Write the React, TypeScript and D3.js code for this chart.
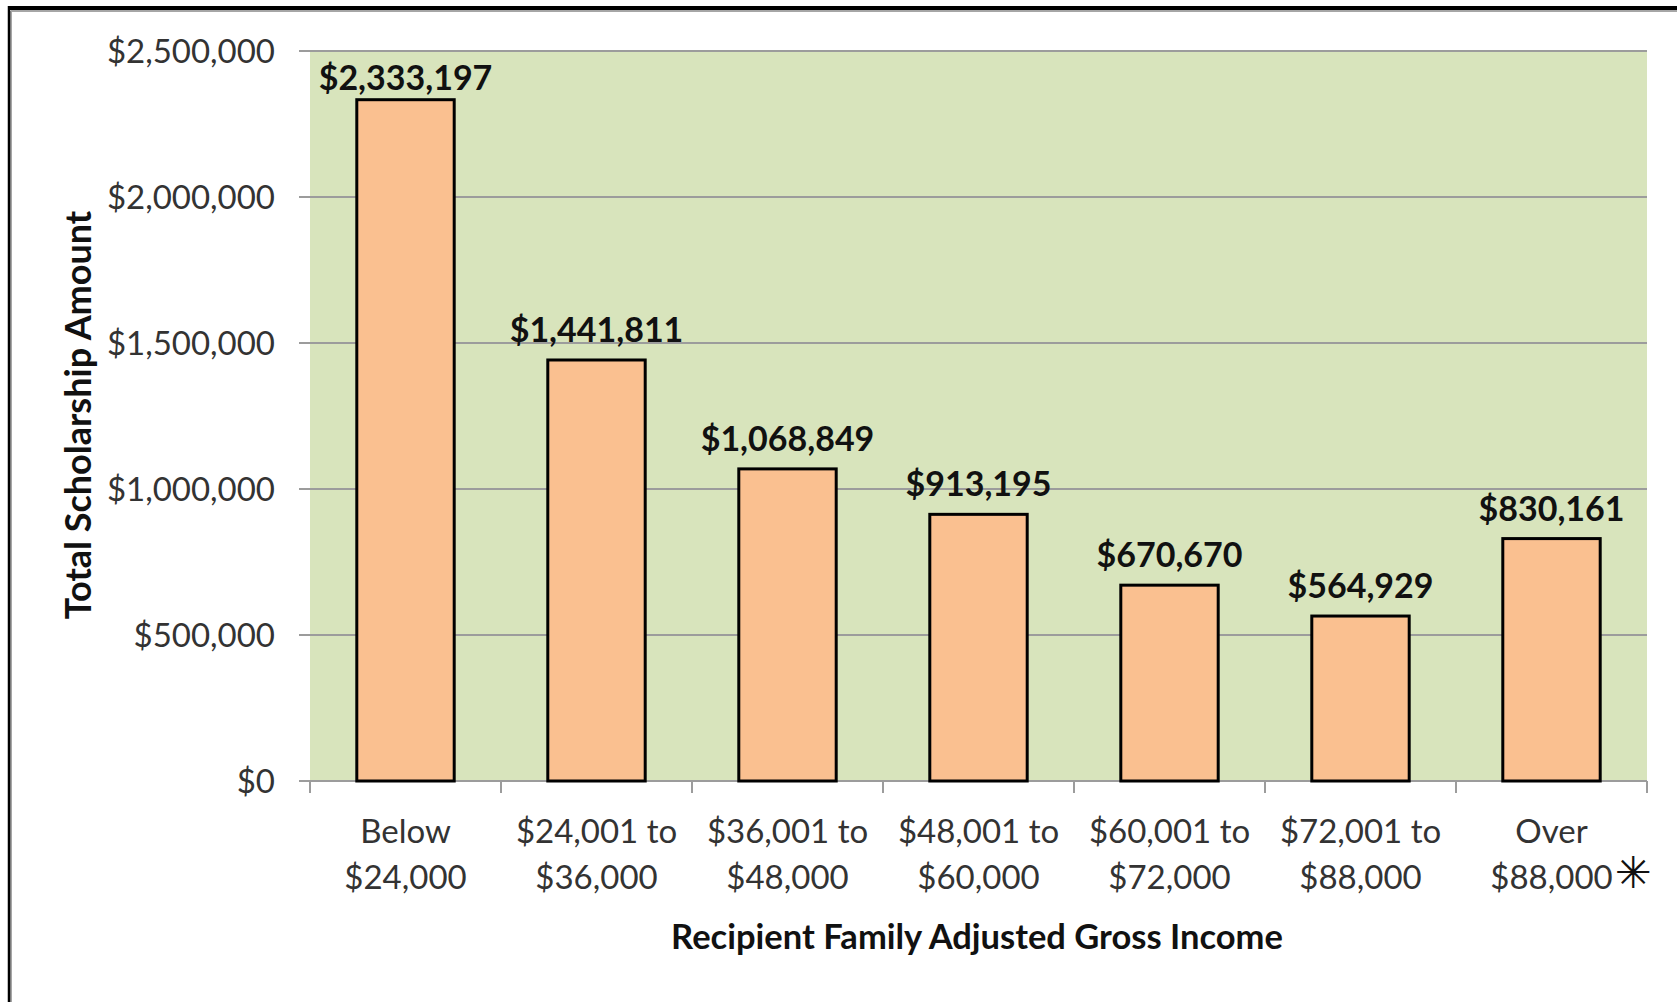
import React from "react";
import * as d3 from "d3";

const categories: string[][] = [
  ["Below", "$24,000"],
  ["$24,001 to", "$36,000"],
  ["$36,001 to", "$48,000"],
  ["$48,001 to", "$60,000"],
  ["$60,001 to", "$72,000"],
  ["$72,001 to", "$88,000"],
  ["Over", "$88,000"],
];
const values: number[] = [2333197, 1441811, 1068849, 913195, 670670, 564929, 830161];
const yTicks: number[] = [0, 500000, 1000000, 1500000, 2000000, 2500000];
const xTitle = "Recipient Family Adjusted Gross Income";
const yTitle = "Total Scholarship Amount";

const W = 1677;
const H = 1002;
const plot = { left: 310, right: 1647, top: 51, bottom: 781 };
const FONT = "Lato, 'Open Sans', sans-serif";

export default function App() {
  const keys = categories.map((c) => c.join(" "));
  const x = d3
    .scaleBand<string>()
    .domain(keys)
    .range([plot.left, plot.right])
    .paddingInner(0.49)
    .paddingOuter(0.245);
  const step = x.step();
  const y = d3.scaleLinear().domain([0, 2500000]).range([plot.bottom, plot.top]);
  const fmt = (v: number) => "$" + d3.format(",")(v);
  const boundaries = d3.range(categories.length + 1).map((i) => plot.left + i * step);

  return (
    <div style={{ position: "absolute", left: 0, top: 0 }}>
      <svg width={W} height={H} style={{ display: "block", background: "#fff" }}>
        {/* outer frame */}
        <line x1={11} y1={11} x2={W} y2={11} stroke="#a6a6a6" strokeWidth={2} />
        <line x1={11} y1={11} x2={11} y2={H} stroke="#a6a6a6" strokeWidth={2} />
        <line x1={9} y1={8} x2={W} y2={8} stroke="#000" strokeWidth={4} />
        <line x1={9} y1={6} x2={9} y2={H} stroke="#000" strokeWidth={2.5} />

        {/* plot background */}
        <rect
          x={plot.left}
          y={plot.top}
          width={plot.right - plot.left}
          height={plot.bottom - plot.top}
          fill="#d8e4bc"
        />

        {/* gridlines + y ticks */}
        {yTicks.map((t) => (
          <g key={t}>
            <line
              x1={plot.left - 11}
              x2={plot.right}
              y1={y(t)}
              y2={y(t)}
              stroke="#9c9c9c"
              strokeWidth={2}
            />
            <text
              x={275}
              y={y(t)}
              dy="0.35em"
              textAnchor="end"
              fontFamily={FONT}
              fontSize={33}
              fill="#333"
            >
              {fmt(t)}
            </text>
          </g>
        ))}

        {/* x axis ticks */}
        {boundaries.map((bx, i) => (
          <line
            key={i}
            x1={bx}
            x2={bx}
            y1={plot.bottom}
            y2={plot.bottom + 12}
            stroke="#9c9c9c"
            strokeWidth={2}
          />
        ))}

        {/* bars */}
        {values.map((v, i) => (
          <rect
            key={i}
            x={x(keys[i])!}
            y={y(v)}
            width={x.bandwidth()}
            height={y(0) - y(v)}
            fill="#fac090"
            stroke="#000"
            strokeWidth={3}
          />
        ))}

        {/* value labels */}
        {values.map((v, i) => (
          <text
            key={i}
            x={x(keys[i])! + x.bandwidth() / 2}
            y={Math.max(y(v) - 18, plot.top + 39)}
            textAnchor="middle"
            fontFamily={FONT}
            fontWeight="bold"
            fontSize={34}
            fill="#111"
          >
            {fmt(v)}
          </text>
        ))}

        {/* category labels */}
        {categories.map((c, i) => (
          <text
            key={i}
            x={x(keys[i])! + x.bandwidth() / 2}
            textAnchor="middle"
            fontFamily={FONT}
            fontSize={33}
            fill="#333"
          >
            <tspan x={x(keys[i])! + x.bandwidth() / 2} y={843}>
              {c[0]}
            </tspan>
            <tspan x={x(keys[i])! + x.bandwidth() / 2} y={889}>
              {c[1]}
            </tspan>
          </text>
        ))}
        <text
          x={x(keys[6])! + x.bandwidth() / 2 + 82}
          y={888}
          textAnchor="middle"
          fontFamily="'DejaVu Sans', sans-serif"
          fontSize={44}
          fill="#111"
        >
          ✳
        </text>

        {/* axis titles */}
        <text
          x={977}
          y={937}
          dy="0.35em"
          textAnchor="middle"
          fontFamily={FONT}
          fontWeight="bold"
          fontSize={34.5}
          fill="#111"
        >
          {xTitle}
        </text>
        <text
          transform={`translate(78,415) rotate(-90)`}
          dy="0.35em"
          textAnchor="middle"
          fontFamily={FONT}
          fontWeight="bold"
          fontSize={36}
          fill="#111"
        >
          {yTitle}
        </text>
      </svg>
    </div>
  );
}
